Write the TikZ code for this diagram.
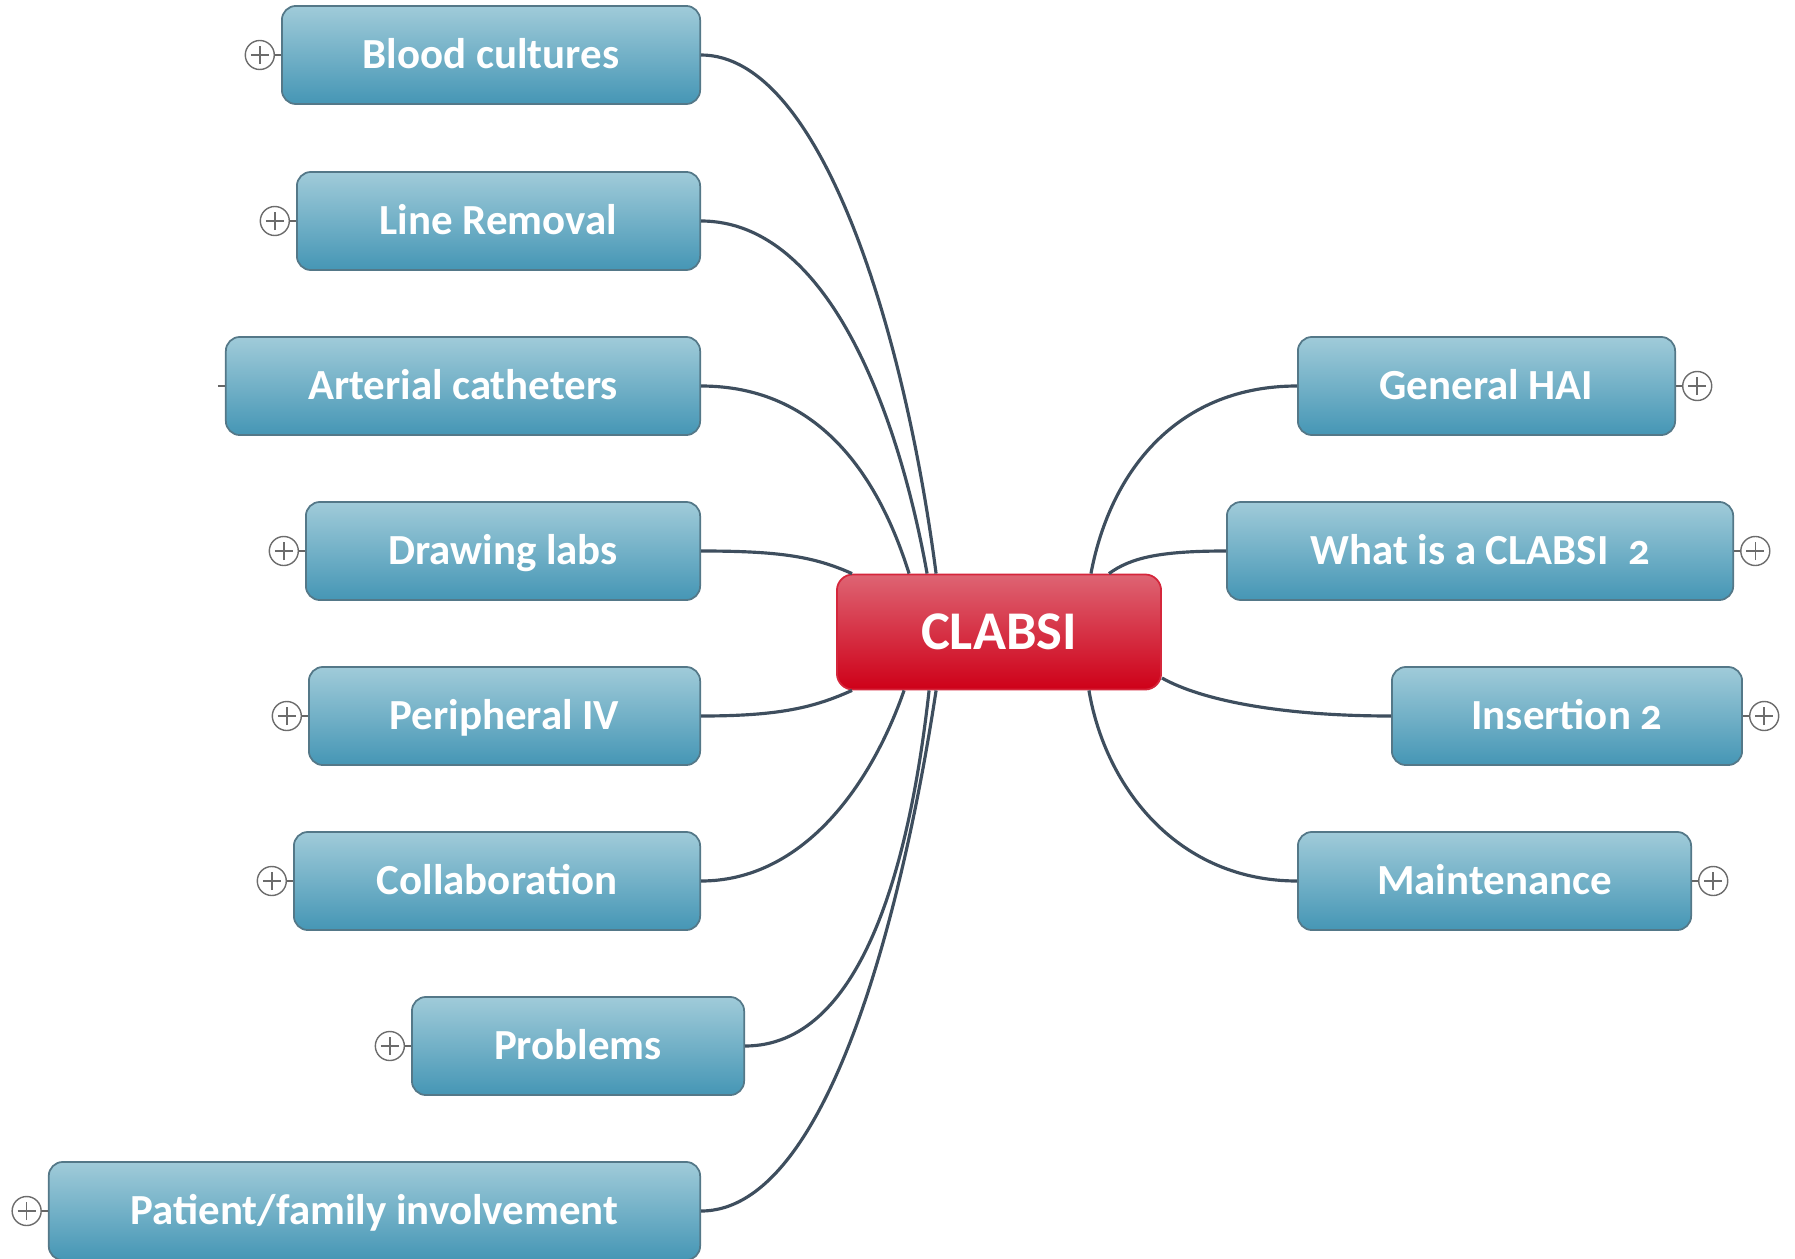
\documentclass[tikz,border=0pt]{standalone}
\usepackage{fontspec}
\setmainfont[Numbers=OldStyle]{Carlito}
\usetikzlibrary{positioning,calc}

\definecolor{topiclight}{RGB}{160,203,217}
\definecolor{topicmain}{RGB}{69,150,181}
\definecolor{topicline}{RGB}{84,120,136}
\definecolor{rootlight}{RGB}{222,100,115}
\definecolor{rootmain}{RGB}{206,0,24}
\definecolor{branchcol}{RGB}{62,78,94}

\tikzset{
  topic/.style={rounded corners=0.14cm, draw=topicline, line width=0.5pt,
    top color=topiclight, middle color=topicmain, bottom color=topicmain,
    text=white, font=\fontsize{12.2}{14}\selectfont\bfseries,
    text height=7.8pt, text depth=0pt, minimum height=0.98cm, inner sep=0pt},
  rootnode/.style={rounded corners=0.16cm, draw=rootmain!85!white, line width=0.5pt,
    top color=rootlight, middle color=rootmain, bottom color=rootmain,
    text=white, font=\fontsize{15.5}{18}\selectfont\bfseries,
    text height=10pt, text depth=0pt, inner sep=0pt},
  plusbtn/.style={circle, draw=gray!85!black, line width=0.4pt, fill=white,
    minimum size=0.29cm, inner sep=0pt,
    path picture={\draw[line width=0.45pt]
      (path picture bounding box.center) ++(-0.09cm,0) -- ++(0.18cm,0)
      (path picture bounding box.center) ++(0,-0.09cm) -- ++(0,0.18cm);}},
  stub/.style={draw=gray!80!black, line width=0.4pt},
  branch/.style={draw=branchcol, line width=0.9pt},
}

\begin{document}
\begin{tikzpicture}[x=0.01cm,y=-0.01cm]
  \useasboundingbox (0,0) rectangle (1795,1258);

  % central topic
  \node[rootnode, minimum width=3.24cm, minimum height=1.15cm] (root) at (999,632) {CLABSI};

  % left topics
  \node[topic, minimum width=4.18cm, anchor=east] (bc)   at (701,55)   {Blood cultures};
  \node[topic, minimum width=4.03cm, anchor=east] (lr)   at (701,221)  {Line Removal};
  \node[topic, minimum width=4.74cm, anchor=east] (ac)   at (701,386)  {Arterial catheters};
  \node[topic, minimum width=3.94cm, anchor=east] (dl)   at (701,551)  {Drawing labs};
  \node[topic, minimum width=3.91cm, anchor=east] (piv)  at (701,716)  {Peripheral IV};
  \node[topic, minimum width=4.06cm, anchor=east] (col)  at (701,881)  {Collaboration};
  \node[topic, minimum width=3.32cm, anchor=east] (prob) at (745,1046) {Problems};
  \node[topic, minimum width=6.51cm, anchor=east] (pfi)  at (701,1211) {Patient/family involvement};

  % right topics
  \node[topic, minimum width=3.77cm, anchor=west] (hai) at (1297,386) {General HAI};
  \node[topic, minimum width=5.06cm, anchor=west] (wic) at (1226,551) {What is a CLABSI~~2};
  \node[topic, minimum width=3.50cm, anchor=west] (ins) at (1391,716) {Insertion 2};
  \node[topic, minimum width=3.93cm, anchor=west] (mnt) at (1297,881) {Maintenance};

  % expand buttons
  \node[plusbtn, left=0.06cm of bc]   (bcp)   {};
  \node[plusbtn, left=0.06cm of lr]   (lrp)   {};
  \coordinate[left=0.07cm of ac]      (acs);
  \node[plusbtn, left=0.06cm of dl]   (dlp)   {};
  \node[plusbtn, left=0.06cm of piv]  (pivp)  {};
  \node[plusbtn, left=0.06cm of col]  (colp)  {};
  \node[plusbtn, left=0.06cm of prob] (probp) {};
  \node[plusbtn, left=0.06cm of pfi]  (pfip)  {};
  \node[plusbtn, right=0.06cm of hai] (haip)  {};
  \node[plusbtn, right=0.06cm of wic] (wicp)  {};
  \node[plusbtn, right=0.06cm of ins] (insp)  {};
  \node[plusbtn, right=0.06cm of mnt] (mntp)  {};

  \draw[stub] (bcp) -- (bc)  (lrp) -- (lr)  (acs) -- (ac)  (dlp) -- (dl)
              (pivp) -- (piv)  (colp) -- (col)  (probp) -- (prob)  (pfip) -- (pfi)
              (haip) -- (hai)  (wicp) -- (wic)  (insp) -- (ins)  (mntp) -- (mnt);

  % branches, left side
  \draw[branch] (bc.east) .. controls +(119,0) and +(-32,-246) .. ([xshift=1cm]root.north west);
  \draw[branch] (lr.east) .. controls +(129,0) and +(-28,-156) .. ([xshift=0.91cm]root.north west);
  \draw[branch] (ac.east) .. controls +(119,0) and +(-30,-96) .. ([xshift=0.73cm]root.north west);
  \draw[branch] (dl.east) .. controls +(79,0) and +(-38,-17) .. ([xshift=0.16cm]root.north west);
  \draw[branch] (piv.east) .. controls +(79,0) and +(-38,17) .. ([xshift=0.16cm]root.south west);
  \draw[branch] (col.east) .. controls +(99,0) and +(-35,100) .. ([xshift=0.68cm]root.south west);
  \draw[branch] (prob.east) .. controls +(115,0) and +(-20,180) .. ([xshift=0.93cm]root.south west);
  \draw[branch] (pfi.east) .. controls +(129,0) and +(-32,210) .. ([xshift=1cm]root.south west);

  % branches, right side
  \draw[branch] (hai.west) .. controls +(-117,0) and +(20,-106) .. ([xshift=-0.71cm]root.north east);
  \draw[branch] (wic.west) .. controls +(-66,0) and +(22,-16) .. ([xshift=-0.53cm]root.north east);
  \draw[branch] (ins.west) .. controls +(-111,0) and +(39,22) .. ([yshift=-0.46cm]root.east);
  \draw[branch] (mnt.west) .. controls +(-117,0) and +(17,100) .. ([xshift=-0.73cm]root.south east);
\end{tikzpicture}
\end{document}
